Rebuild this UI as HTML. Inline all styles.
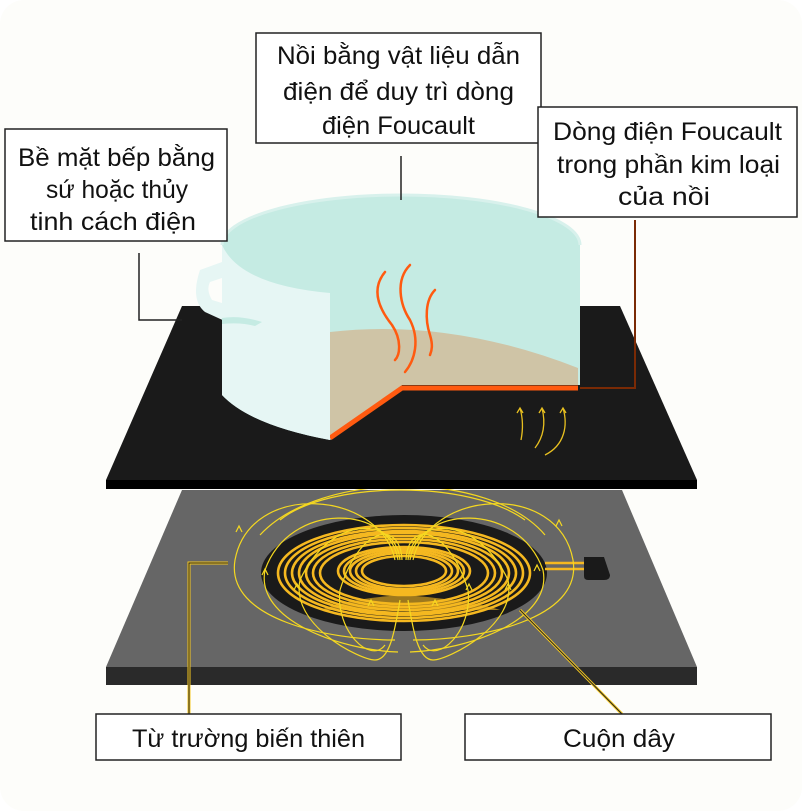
<!DOCTYPE html>
<html><head><meta charset="utf-8"><style>
html,body{margin:0;padding:0;background:#fff;}
svg{display:block}
text{font-family:"Liberation Sans","Noto Sans CJK SC",sans-serif;font-size:25px;fill:#111;}
</style></head><body>
<svg width="802" height="811" viewBox="0 0 802 811" xmlns="http://www.w3.org/2000/svg">
<rect x="0" y="0" width="802" height="811" rx="24" fill="#fdfdfa"/>

<!-- lower plate -->
<polygon points="182,490 622,490 697,667 106,667" fill="#666"/>
<rect x="106" y="667" width="591" height="18" fill="#2a2a2a"/>
<ellipse cx="404" cy="573" rx="143" ry="58" fill="#1a1a1a"/>
<g fill="none" stroke="#f5b820" stroke-width="2.6">
<ellipse cx="404" cy="573" rx="126" ry="48"/>
<ellipse cx="404" cy="573" rx="119" ry="45"/>
<ellipse cx="404" cy="573" rx="112" ry="42"/>
<ellipse cx="404" cy="573" rx="105" ry="40"/>
<ellipse cx="404" cy="573" rx="98" ry="37"/>
<ellipse cx="404" cy="573" rx="91" ry="34"/>
<ellipse cx="404" cy="573" rx="84" ry="31"/>
<ellipse cx="404" cy="571" rx="66" ry="24"/>
<ellipse cx="404" cy="571" rx="60" ry="22"/>
<ellipse cx="404" cy="571" rx="54" ry="20"/>
<ellipse cx="404" cy="571" rx="48" ry="18"/>
<ellipse cx="404" cy="571" rx="42" ry="15"/>
</g>
<path d="M404,595 Q470,600 500,610 L320,610 Q350,598 404,595Z" fill="#f5b820" opacity="0.6"/>
<line x1="545" y1="563" x2="586" y2="563" stroke="#f5b820" stroke-width="2.5"/>
<line x1="545" y1="569" x2="586" y2="569" stroke="#f5b820" stroke-width="2.5"/>
<path d="M584,557 L604,557 L610,575 Q610,580 604,580 L588,580 Q584,580 584,576Z" fill="#1a1a1a"/>
<!-- field lines -->
<g fill="none" stroke="#f5d820" stroke-width="1.2">
<path d="M395,560 C380,490 250,480 235,560 C225,620 330,640 395,640"/>
<path d="M398,560 C390,505 290,500 265,570 C255,620 340,650 398,652"/>
<path d="M400,560 C395,515 330,515 300,580 C290,625 360,660 375,660 C390,660 395,630 400,600"/>
<path d="M402,560 C400,520 360,525 340,590 C335,630 370,665 385,645"/>
<path d="M413,560 C428,490 558,480 573,560 C583,620 478,640 413,640"/>
<path d="M410,560 C418,505 518,500 543,570 C553,620 468,650 410,652"/>
<path d="M408,560 C413,515 478,515 508,580 C518,625 448,660 433,660 C418,660 413,630 408,600"/>
<path d="M406,560 C408,520 448,525 468,590 C473,630 438,665 423,645"/>
<path d="M280,520 C330,480 470,480 525,520"/>
<path d="M260,535 C320,470 490,470 545,535"/>
</g>
<g fill="none" stroke="#f5d820" stroke-width="1.2">
<path d="M236,532 l3,-6 l3,6 M262,575 l3,-6 l3,6 M294,590 l3,-6 l3,6 M368,606 l3,-6 l3,6 M432,606 l3,-6 l3,6 M466,590 l3,-6 l3,6 M505,590 l3,-6 l3,6 M534,571 l3,-6 l3,6 M556,526 l3,-6 l3,6"/>
</g>

<!-- top plate -->
<polygon points="182,306 620,306 697,480 106,480" fill="#1a1a1a"/>
<rect x="106" y="480" width="591" height="9" fill="#000"/>
<g fill="none" stroke="#e8c020" stroke-width="1.3">
<path d="M521,440 C524,425 522,415 520,408 M517,413 l3,-5 l3,5"/>
<path d="M535,448 C545,435 545,420 542,408 M539,413 l3,-5 l3,5"/>
<path d="M545,455 C565,445 568,425 563,408 M560,413 l3,-5 l3,5"/>
</g>

<!-- pot -->
<path d="M222,245 A179,50 0 0 1 580,245 L580,385 L402,385 L330,440 Q250,425 222,395Z" fill="#c5ebe3"/>
<path d="M222,245 A179,50 0 0 1 580,245" fill="none" stroke="#d8f1ec" stroke-width="3"/>
<path d="M330,332 Q450,318 578,368 L578,385 L402,385 L330,435Z" fill="#cfc4a6"/>
<path d="M330,438 L402,388 L578,388" fill="none" stroke="#ff5a10" stroke-width="5"/>
<path d="M222,245 Q240,285 330,293 L330,440 Q250,425 222,395Z" fill="#e6f6f4"/>
<path d="M222,262 L200,270 Q190,300 205,312 L240,328 L232,306 L212,300 Q206,290 210,282 L222,278Z" fill="#e6f6f4"/>
<path d="M222,318 Q240,315 262,322 L255,326 Q240,322 222,324Z" fill="#c5ebe3"/>
<g fill="none" stroke="#ff5a10" stroke-width="2.5" stroke-linecap="round">
<path d="M385,272 C370,290 380,310 392,325 C402,340 400,355 395,360"/>
<path d="M410,265 C395,280 400,305 410,320 C420,340 415,360 405,372"/>
<path d="M435,290 C425,300 425,320 430,335 C433,345 432,350 430,355"/>
</g>

<!-- connectors -->
<line x1="401" y1="156" x2="401" y2="200" stroke="#222" stroke-width="1.5"/>
<polyline points="139,253 139,320 182,320" fill="none" stroke="#222" stroke-width="1.5"/>
<polyline points="635,220 635,388 580,388" fill="none" stroke="#7a2a05" stroke-width="2"/>
<polyline points="189,714 189,563 228,563" fill="none" stroke="#f5c820" stroke-width="3"/>
<polyline points="189,714 189,563 228,563" fill="none" stroke="#222" stroke-width="1"/>
<line x1="622" y1="714" x2="520" y2="610" stroke="#f5c820" stroke-width="3"/>
<line x1="622" y1="714" x2="520" y2="610" stroke="#222" stroke-width="1"/>

<g fill="#fff" stroke="#222" stroke-width="1.5">
<rect x="256" y="33" width="285" height="110"/>
<rect x="5" y="129" width="222" height="112"/>
<rect x="538" y="107" width="259" height="110"/>
<rect x="96" y="714" width="305" height="46"/>
<rect x="465" y="714" width="306" height="46"/>
</g>
<text x="277" y="64" textLength="243" lengthAdjust="spacingAndGlyphs">Nồi bằng vật liệu dẫn</text>
<text x="283" y="100" textLength="231" lengthAdjust="spacingAndGlyphs">điện để duy trì dòng</text>
<text x="322" y="134" textLength="153" lengthAdjust="spacingAndGlyphs">điện Foucault</text>
<text x="18" y="166" textLength="197" lengthAdjust="spacingAndGlyphs">Bề mặt bếp bằng</text>
<text x="46" y="198" textLength="142" lengthAdjust="spacingAndGlyphs">sứ hoặc thủy</text>
<text x="30" y="230" textLength="166" lengthAdjust="spacingAndGlyphs">tinh cách điện</text>
<text x="553" y="140" textLength="229" lengthAdjust="spacingAndGlyphs">Dòng điện Foucault</text>
<text x="557" y="173" textLength="223" lengthAdjust="spacingAndGlyphs">trong phần kim loại</text>
<text x="618" y="205" textLength="92" lengthAdjust="spacingAndGlyphs">của nồi</text>
<text x="132" y="747" textLength="233" lengthAdjust="spacingAndGlyphs">Từ trường biến thiên</text>
<text x="563" y="747" textLength="112" lengthAdjust="spacingAndGlyphs">Cuộn dây</text>
</svg>
</body></html>
